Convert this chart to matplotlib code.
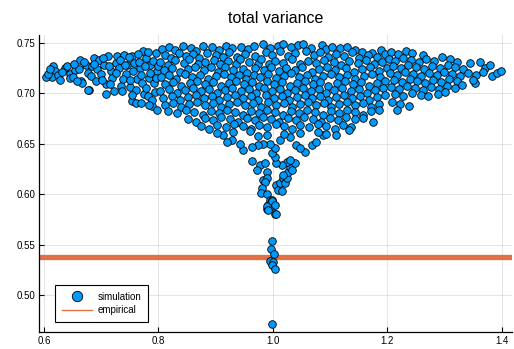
"""
Scatter of simulated total variance against the empirical value
"""

### Import modules
import numpy as np
import matplotlib.pyplot as plt
from matplotlib.lines import Line2D

### Empirical total variance
empirical = 0.5375

### Simulated points in groups
left_wing = [
    (0.616,0.727),(0.620,0.722),(0.614,0.716),(0.624,0.718),(0.636,0.725),
    (0.645,0.719),(0.645,0.715),(0.655,0.723),(0.661,0.724),(0.663,0.733),
    (0.665,0.712),(0.667,0.710),(0.676,0.720),(0.679,0.703),(0.673,0.728),
    (0.684,0.727),(0.687,0.735),(0.696,0.733),(0.693,0.724),(0.699,0.719),
    (0.705,0.728),(0.708,0.709),(0.708,0.699),(0.711,0.737),(0.717,0.722),
    (0.719,0.715),(0.722,0.702),(0.725,0.730),(0.728,0.737),(0.731,0.725),
    (0.734,0.707),(0.737,0.702),(0.740,0.738),(0.743,0.719),(0.745,0.728),
    (0.750,0.706),(0.753,0.692),(0.754,0.737),(0.757,0.730),(0.760,0.690),
    (0.763,0.714),(0.768,0.725),(0.772,0.710),(0.773,0.742),(0.775,0.699),
    (0.779,0.735),(0.782,0.697),(0.783,0.715),(0.786,0.728),(0.789,0.687),
    (0.792,0.710),(0.795,0.740),(0.797,0.722),(0.798,0.684),(0.603,0.716),
    (0.607,0.719),(0.628,0.713),(0.632,0.721),(0.641,0.727),(0.650,0.716),
    (0.652,0.729),(0.658,0.712),(0.670,0.731),(0.682,0.717),(0.690,0.712),
    (0.688,0.729),(0.702,0.713),(0.703,0.735),(0.714,0.727),(0.716,0.709),
    (0.726,0.720),(0.733,0.733),(0.738,0.714),(0.742,0.728),(0.748,0.736),
    (0.751,0.713),(0.756,0.722),(0.761,0.703),(0.764,0.739),(0.766,0.731),
    (0.770,0.718),(0.776,0.727),(0.778,0.705),(0.781,0.741),(0.785,0.720),
    (0.788,0.693),(0.791,0.732),(0.794,0.701),(0.796,0.715),(0.799,0.727),
    (0.754,0.698),(0.770,0.690),(0.784,0.688),(0.677,0.703),(0.610,0.724),
]

center_top = [
    (0.806,0.744),(0.819,0.746),(0.828,0.743),(0.842,0.747),(0.856,0.745),
    (0.866,0.742),(0.877,0.747),(0.893,0.746),(0.906,0.743),(0.918,0.747),
    (0.929,0.745),(0.945,0.746),(0.957,0.744),(0.966,0.747),(0.983,0.749),
    (0.994,0.745),(1.008,0.747),(1.017,0.749),(1.031,0.746),(1.044,0.748),
    (1.052,0.749),(1.066,0.745),(1.086,0.748),(1.092,0.744),(1.103,0.746),
    (1.117,0.745),(1.129,0.746),(1.144,0.743),(1.155,0.741),(1.173,0.740),
    (1.188,0.743),(0.811,0.738),(0.822,0.735),(0.835,0.740),(0.848,0.737),
    (0.861,0.739),(0.871,0.735),(0.884,0.740),(0.901,0.738),(0.913,0.736),
    (0.924,0.741),(0.938,0.736),(0.951,0.739),(0.969,0.737),(0.987,0.741),
    (0.999,0.738),(1.013,0.742),(1.026,0.737),(1.038,0.740),(1.058,0.742),
    (1.071,0.738),(1.082,0.741),(1.097,0.736),(1.111,0.739),(1.124,0.737),
    (1.138,0.741),(1.151,0.735),(1.166,0.738),(1.182,0.736),(1.196,0.739),
    (0.803,0.731),(0.817,0.728),(0.829,0.733),(0.844,0.730),(0.853,0.734),
    (0.869,0.729),(0.881,0.731),(0.897,0.733),(0.908,0.729),(0.921,0.732),
    (0.935,0.729),(0.943,0.734),(0.959,0.731),(0.973,0.729),(0.979,0.734),
    (0.993,0.729),(1.004,0.732),(1.018,0.730),(1.034,0.734),(1.047,0.729),
    (1.061,0.732),(1.076,0.730),(1.090,0.733),(1.106,0.731),(1.118,0.728),
    (1.133,0.732),(1.148,0.730),(1.162,0.733),(1.177,0.729),(1.191,0.731),
    (0.809,0.723),(0.823,0.725),(0.838,0.721),(0.851,0.724),(0.864,0.726),
    (0.879,0.723),(0.891,0.726),(0.904,0.721),(0.916,0.726),(0.931,0.723),
    (0.947,0.724),(0.955,0.720),(0.968,0.725),(0.984,0.723),(0.996,0.726),
    (1.011,0.722),(1.023,0.725),(1.039,0.723),(1.051,0.726),(1.068,0.721),
    (1.081,0.724),(1.094,0.726),(1.109,0.723),(1.127,0.725),(1.141,0.721),
    (1.155,0.724),(1.169,0.726),(1.185,0.722),(1.199,0.725),
]

center_mid = [
    (0.805,0.716),(0.819,0.718),(0.831,0.714),(0.846,0.719),(0.859,0.716),
    (0.872,0.718),(0.887,0.714),(0.901,0.717),(0.914,0.719),(0.927,0.716),
    (0.940,0.718),(0.953,0.714),(0.966,0.718),(0.978,0.716),(0.992,0.719),
    (1.006,0.715),(1.019,0.717),(1.032,0.720),(1.045,0.716),(1.059,0.718),
    (1.073,0.714),(1.088,0.717),(1.101,0.719),(1.115,0.716),(1.129,0.718),
    (1.143,0.714),(1.159,0.717),(1.173,0.719),(1.187,0.716),(0.812,0.709),
    (0.826,0.711),(0.840,0.707),(0.855,0.710),(0.868,0.712),(0.882,0.709),
    (0.896,0.711),(0.909,0.707),(0.923,0.710),(0.936,0.712),(0.950,0.709),
    (0.963,0.711),(0.976,0.707),(0.989,0.712),(1.002,0.709),(1.015,0.711),
    (1.029,0.707),(1.042,0.710),(1.056,0.712),(1.070,0.709),(1.083,0.711),
    (1.097,0.707),(1.112,0.710),(1.126,0.712),(1.140,0.709),(1.153,0.711),
    (1.168,0.707),(1.182,0.710),(1.196,0.712),(0.803,0.702),(0.818,0.704),
    (0.832,0.700),(0.847,0.703),(0.861,0.705),(0.875,0.702),(0.889,0.704),
    (0.902,0.700),(0.917,0.703),(0.929,0.705),(0.944,0.702),(0.958,0.704),
    (0.971,0.700),(0.985,0.705),(0.998,0.702),(1.012,0.704),(1.025,0.700),
    (1.039,0.703),(1.053,0.705),(1.066,0.702),(1.080,0.704),(1.093,0.700),
    (1.107,0.703),(1.121,0.705),(1.136,0.702),(1.150,0.704),(1.164,0.700),
    (1.178,0.703),(1.192,0.705),(0.808,0.695),(0.823,0.697),(0.837,0.693),
    (0.851,0.696),(0.865,0.698),(0.879,0.695),(0.893,0.697),(0.906,0.693),
    (0.920,0.696),(0.934,0.698),(0.947,0.695),(0.961,0.697),(0.974,0.693),
    (0.988,0.698),(1.001,0.695),(1.015,0.697),(1.028,0.693),(1.042,0.696),
    (1.056,0.698),(1.069,0.695),(1.083,0.697),(1.096,0.693),(1.110,0.696),
    (1.124,0.698),(1.138,0.695),(1.152,0.697),(1.167,0.693),(1.181,0.696),
    (1.195,0.698),
]

center_low = [
    (0.811,0.688),(0.826,0.690),(0.840,0.686),(0.854,0.689),(0.868,0.691),
    (0.882,0.688),(0.896,0.690),(0.910,0.686),(0.924,0.689),(0.938,0.691),
    (0.952,0.688),(0.965,0.690),(0.979,0.686),(0.992,0.691),(1.006,0.688),
    (1.020,0.690),(1.033,0.686),(1.047,0.689),(1.061,0.691),(1.075,0.688),
    (1.089,0.690),(1.102,0.686),(1.116,0.689),(1.130,0.691),(1.144,0.688),
    (1.158,0.690),(1.172,0.686),(1.186,0.689),(0.817,0.683),(0.833,0.681),
    (0.848,0.684),(0.862,0.682),(0.877,0.679),(0.891,0.683),(0.905,0.681),
    (0.919,0.684),(0.933,0.682),(0.947,0.679),(0.961,0.683),(0.975,0.681),
    (0.989,0.684),(1.003,0.682),(1.017,0.679),(1.031,0.683),(1.045,0.681),
    (1.059,0.684),(1.073,0.682),(1.087,0.679),(1.101,0.683),(1.115,0.681),
    (1.129,0.684),(1.143,0.682),(1.157,0.679),(1.171,0.683),(1.186,0.684),
    (0.852,0.675),(0.866,0.672),(0.881,0.676),(0.896,0.674),(0.910,0.677),
    (0.925,0.675),(0.939,0.672),(0.954,0.676),(0.968,0.674),(0.983,0.677),
    (0.997,0.675),(1.011,0.672),(1.026,0.676),(1.040,0.674),(1.055,0.677),
    (1.070,0.675),(1.084,0.672),(1.099,0.676),(1.114,0.674),(1.128,0.677),
    (1.143,0.675),(1.158,0.676),(0.874,0.668),(0.889,0.665),(0.903,0.669),
    (0.918,0.667),(0.932,0.670),(0.947,0.668),(0.961,0.665),(0.976,0.669),
    (0.990,0.667),(1.005,0.670),(1.019,0.668),(1.034,0.665),(1.048,0.669),
    (1.063,0.667),(1.078,0.670),(1.093,0.668),(1.108,0.665),(1.122,0.669),
    (1.137,0.667),(1.133,0.664),(1.110,0.659),(1.174,0.672),
]

funnel = [
    (0.963,0.633),(0.977,0.629),(0.972,0.624),(0.986,0.631),(0.989,0.622),
    (0.983,0.614),(0.989,0.616),(0.986,0.612),(0.980,0.606),(0.979,0.601),
    (0.989,0.600),(0.995,0.594),(0.999,0.594),(0.992,0.589),(0.990,0.585),
    (0.998,0.588),(1.004,0.580),(1.006,0.609),(1.009,0.604),(1.012,0.611),
    (1.015,0.603),(1.017,0.616),(1.021,0.611),(1.024,0.616),(1.027,0.622),
    (1.030,0.627),(1.033,0.624),(1.018,0.619),(1.024,0.632),(1.038,0.631),
    (1.015,0.629),(1.006,0.631),(1.004,0.637),(0.998,0.641),(1.004,0.646),
    (0.995,0.650),(0.983,0.650),(0.974,0.649),(0.963,0.647),(0.948,0.644),
    (0.942,0.650),(0.928,0.654),(0.919,0.652),(0.913,0.659),(0.974,0.658),
    (1.012,0.654),(1.030,0.657),(1.041,0.649),(1.056,0.642),(1.047,0.646),
    (1.068,0.649),(1.076,0.652),(1.088,0.659),(1.030,0.634),(0.990,0.588),
    (0.999,0.593),(1.004,0.589),(1.005,0.580),(0.992,0.584),(0.902,0.661),
    (0.931,0.662),(0.960,0.663),(0.990,0.659),(1.019,0.660),(1.048,0.661),
    (1.078,0.662),(1.093,0.660),
]

tail = [
    (0.999,0.554),(0.996,0.546),(1.002,0.541),(0.994,0.534),(1.000,0.533),
    (0.998,0.530),(1.004,0.526),(0.999,0.471),
]

right_wing = [
    (1.207,0.741),(1.219,0.739),(1.233,0.742),(1.243,0.740),(1.262,0.738),
    (1.203,0.734),(1.214,0.732),(1.228,0.735),(1.241,0.733),(1.255,0.731),
    (1.268,0.734),(1.281,0.732),(1.295,0.736),(1.309,0.734),(1.322,0.731),
    (1.209,0.727),(1.223,0.725),(1.236,0.728),(1.250,0.726),(1.264,0.724),
    (1.277,0.727),(1.291,0.725),(1.305,0.728),(1.318,0.726),(1.332,0.724),
    (1.344,0.730),(1.362,0.731),(1.371,0.725),(1.379,0.728),(1.204,0.720),
    (1.217,0.718),(1.231,0.721),(1.245,0.719),(1.258,0.717),(1.272,0.720),
    (1.286,0.718),(1.299,0.721),(1.313,0.719),(1.327,0.717),(1.340,0.720),
    (1.354,0.718),(1.367,0.721),(1.382,0.717),(1.392,0.720),(1.398,0.722),
    (1.211,0.713),(1.225,0.711),(1.239,0.714),(1.252,0.712),(1.266,0.710),
    (1.280,0.713),(1.293,0.711),(1.307,0.714),(1.321,0.712),(1.353,0.710),
    (1.349,0.713),(1.206,0.706),(1.220,0.704),(1.234,0.707),(1.248,0.705),
    (1.262,0.703),(1.276,0.706),(1.290,0.704),(1.304,0.707),(1.318,0.705),
    (1.331,0.708),(1.214,0.699),(1.228,0.697),(1.243,0.700),(1.258,0.698),
    (1.271,0.697),(1.289,0.699),(1.301,0.701),(1.208,0.691),(1.222,0.689),
    (1.237,0.687),(1.217,0.684),
]

groups = [left_wing, center_top, center_mid, center_low, funnel, tail,
          right_wing]
pts = np.array([p for g in groups for p in g])
simx = pts[:,0]
simy = pts[:,1]

###############################################################################
### Plot figure
plt.rc('font',family='Liberation Sans')
plt.rc('axes',edgecolor='black')

fig = plt.figure(figsize=(5.14,3.49),dpi=100)
ax = fig.add_axes([0.0768,0.0487,0.9192,0.851])

ax.spines['top'].set_color('none')
ax.spines['right'].set_color('none')
ax.spines['left'].set_linewidth(0.9)
ax.spines['bottom'].set_linewidth(0.9)

ax.axhline(empirical,color='#E26F46',linewidth=3.8,zorder=2)
ax.scatter(simx,simy,s=30,color='#009AFA',edgecolor='black',
           linewidth=0.6,zorder=3)

ax.set_xlim([0.5921,1.4175])
ax.set_ylim([0.4633,0.7579])
ax.set_xticks(np.arange(0.6,1.41,0.2))
ax.set_xticklabels(['0.6','0.8','1.0','1.2','1.4'])
ax.set_yticks(np.arange(0.50,0.751,0.05))
ax.set_yticklabels(['0.50','0.55','0.60','0.65','0.70','0.75'])
ax.tick_params('both',direction='in',length=3.5,width=0.8,labelsize=7,
               pad=3)

ax.grid(color='black',alpha=0.1,linewidth=0.8,zorder=0)
ax.set_axisbelow(True)

ax.set_title('total variance',fontsize=11.5,pad=9)

handles = [Line2D([],[],marker='o',linestyle='none',markersize=7.5,
                  markerfacecolor='#009AFA',markeredgecolor='black',
                  markeredgewidth=0.6),
           Line2D([],[],color='#E26F46',linewidth=1)]
le = ax.legend(handles,['simulation','empirical'],loc='lower left',
               bbox_to_anchor=(0.033,0.034),borderaxespad=0,fontsize=7,
               fancybox=False,framealpha=1,edgecolor='black',
               handlelength=3.1,handletextpad=0.55,labelspacing=0.35,
               borderpad=0.7)
le.get_frame().set_linewidth(0.8)

plt.savefig('out.png',dpi=100)
